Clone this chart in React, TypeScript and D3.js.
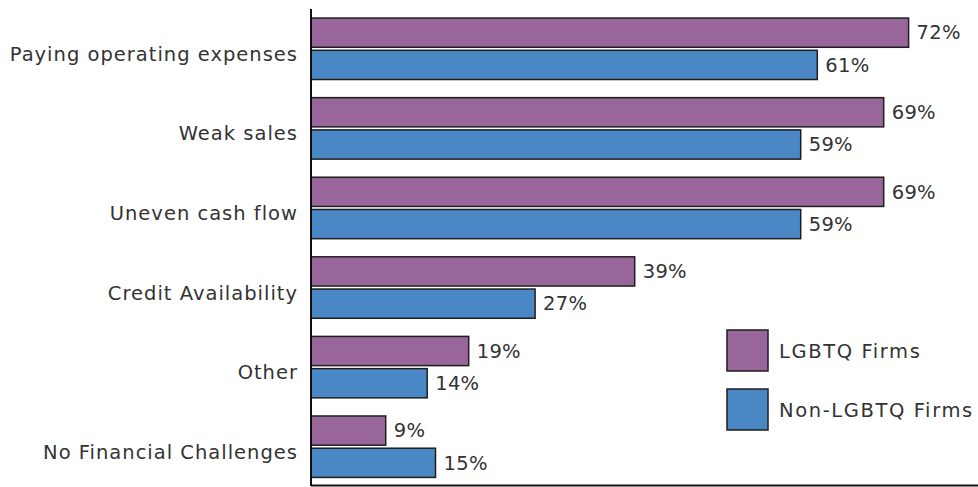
import React from "react";
import * as d3 from "d3";

const categories = [
  "Paying operating expenses",
  "Weak sales",
  "Uneven cash flow",
  "Credit Availability",
  "Other",
  "No Financial Challenges",
];
const seriesNames = ["LGBTQ Firms", "Non-LGBTQ Firms"];
const lgbtqValues = [72, 69, 69, 39, 19, 9];
const nonLgbtqValues = [61, 59, 59, 27, 14, 15];
const seriesColors = ["#98669a", "#4a87c5"];

const W = 978;
const H = 487;
const FONT = "'DejaVu Sans', sans-serif";

export default function App() {
  const x = d3.scaleLinear().domain([0, 80]).range([311, 975]);
  const y = d3.scaleBand<string>().domain(categories).range([9, 486.5]).paddingInner(0).paddingOuter(0);
  const sub = d3
    .scaleBand<string>()
    .domain(seriesNames)
    .range([0, y.bandwidth()])
    .paddingInner(3 / 32)
    .paddingOuter(9 / 32);
  const values = [lgbtqValues, nonLgbtqValues];

  return (
    <svg width={W} height={H} style={{ position: "absolute", left: 0, top: 0, background: "#fff" }}>
      {categories.map((c, i) => (
        <g key={c}>
          <text
            x={298}
            y={(y(c) as number) + y.bandwidth() / 2 + 12}
            textAnchor="end"
            fontFamily={FONT}
            fontSize={19.5}
            letterSpacing={1}
            fill="#333"
          >
            {c}
          </text>
          {seriesNames.map((s, k) => {
            const v = values[k][i];
            const by = (y(c) as number) + (sub(s) as number);
            return (
              <g key={s}>
                <rect
                  x={x(0)}
                  y={by}
                  width={x(v) - x(0)}
                  height={sub.bandwidth()}
                  fill={seriesColors[k]}
                  stroke="#1e1e1e"
                  strokeWidth={1.5}
                />
                <text
                  x={x(v) + 8}
                  y={by + sub.bandwidth() / 2}
                  dy="0.35em"
                  fontFamily={FONT}
                  fontSize={19.5}
                  letterSpacing={0.3}
                  fill="#333"
                >
                  {v}%
                </text>
              </g>
            );
          })}
        </g>
      ))}
      <line x1={x(0)} x2={x(0)} y1={9} y2={486} stroke="#111" strokeWidth={2} />
      <line x1={x(0)} x2={W} y1={485.5} y2={485.5} stroke="#111" strokeWidth={2} />
      {seriesNames.map((s, k) => (
        <g key={s}>
          <rect
            x={727}
            y={330 + k * 59}
            width={41}
            height={41}
            fill={seriesColors[k]}
            stroke="#1e1e1e"
            strokeWidth={1.5}
          />
          <text
            x={779}
            y={351 + k * 59}
            dy="0.35em"
            fontFamily={FONT}
            fontSize={19.5}
            letterSpacing={1.6}
            fill="#333"
          >
            {s}
          </text>
        </g>
      ))}
    </svg>
  );
}
